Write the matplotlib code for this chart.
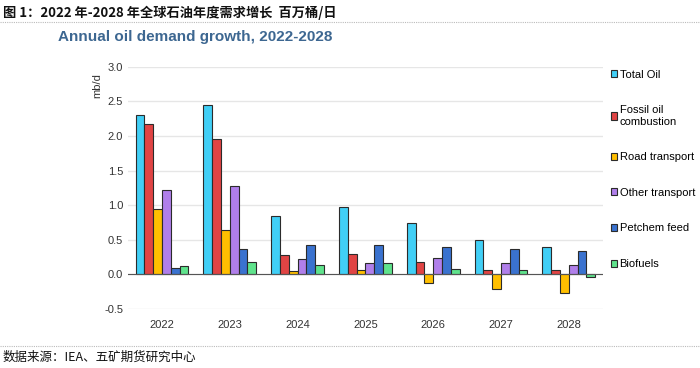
import numpy as np
import matplotlib
matplotlib.use("Agg")
import matplotlib.pyplot as plt
from matplotlib.patches import Patch
from matplotlib.lines import Line2D

plt.rcParams['font.family'] = ['Liberation Sans', 'Noto Sans CJK SC', 'DejaVu Sans']

# 数据
years = ['2022', '2023', '2024', '2025', '2026', '2027', '2028']
series_names = ['Total Oil', 'Fossil oil\ncombustion', 'Road transport',
                'Other transport', 'Petchem feed', 'Biofuels']
total_oil = [2.30, 2.44, 0.85, 0.98, 0.74, 0.50, 0.39]
fossil_oil = [2.17, 1.95, 0.28, 0.29, 0.18, 0.07, 0.07]
road_transport = [0.95, 0.64, 0.05, 0.07, -0.13, -0.21, -0.27]
other_transport = [1.22, 1.27, 0.22, 0.17, 0.24, 0.17, 0.14]
petchem_feed = [0.09, 0.37, 0.43, 0.43, 0.39, 0.37, 0.34]
biofuels = [0.12, 0.18, 0.14, 0.17, 0.08, 0.06, -0.03]
yticks = [-0.5, 0.0, 0.5, 1.0, 1.5, 2.0, 2.5, 3.0]

series = [total_oil, fossil_oil, road_transport, other_transport, petchem_feed, biofuels]
colors = ['#41CFF6', '#E04444', '#FFBF00', '#B07FEA', '#3A72CF', '#5FE38C']

fig = plt.figure(figsize=(7, 3.68), dpi=100)
ax = fig.add_axes([0.183, 0.160, 0.678, 0.659])

x = np.arange(len(years))
w = 0.13
for i, (vals, c) in enumerate(zip(series, colors)):
    ax.bar(x + (i - 2.5) * w, vals, w, color=c, edgecolor='#2b2b2b', linewidth=0.8, zorder=3)

ax.set_xlim(-0.5, len(years) - 0.5)
ax.set_ylim(-0.5, 3.0)
ax.set_yticks(yticks)
ax.set_yticklabels(['%.1f' % v for v in yticks])
ax.set_xticks(x)
ax.set_xticklabels(years)
ax.tick_params(axis='both', length=0, labelsize=8, colors='#333333')
ax.tick_params(axis='x', pad=8)
ax.grid(axis='y', color='#e6e6e6', linewidth=1, zorder=0)
for s in ax.spines.values():
    s.set_visible(False)
ax.axhline(0, color='#555555', linewidth=0.8, zorder=4)
ax.set_ylabel('mb/d', fontsize=8, color='#333333')
ax.yaxis.set_label_coords(-0.055, 0.92)

handles = [Patch(facecolor=c, edgecolor='#2b2b2b', linewidth=0.8) for c in colors]
fig.legend(handles, series_names, loc='upper left', bbox_to_anchor=(0.866, 0.823),
           frameon=False, fontsize=8, handlelength=0.6, handleheight=0.6,
           handletextpad=0.2, labelspacing=2.3, borderaxespad=0)

fig.text(0.083, 0.888, 'Annual oil demand growth, 2022-2028', fontsize=11,
         fontweight='bold', color='#3D6791')
fig.text(0.004, 0.965, '图 1：2022 年-2028 年全球石油年度需求增长  百万桶/日', fontsize=9.5,
         fontweight='bold', color='#111111', family=['Noto Sans CJK SC', 'DejaVu Sans'], va='center')
fig.text(0.004, 0.030, '数据来源：IEA、五矿期货研究中心', fontsize=9,
         color='#111111', family=['Noto Sans CJK SC', 'DejaVu Sans'], va='center')
fig.add_artist(Line2D([0, 1], [0.940, 0.940], color='#bbbbbb', linewidth=0.8,
                      linestyle=(0, (1, 1)), transform=fig.transFigure))
fig.add_artist(Line2D([0, 1], [0.060, 0.060], color='#bbbbbb', linewidth=0.8,
                      linestyle=(0, (1, 1)), transform=fig.transFigure))

fig.savefig('out.png', dpi=100)
